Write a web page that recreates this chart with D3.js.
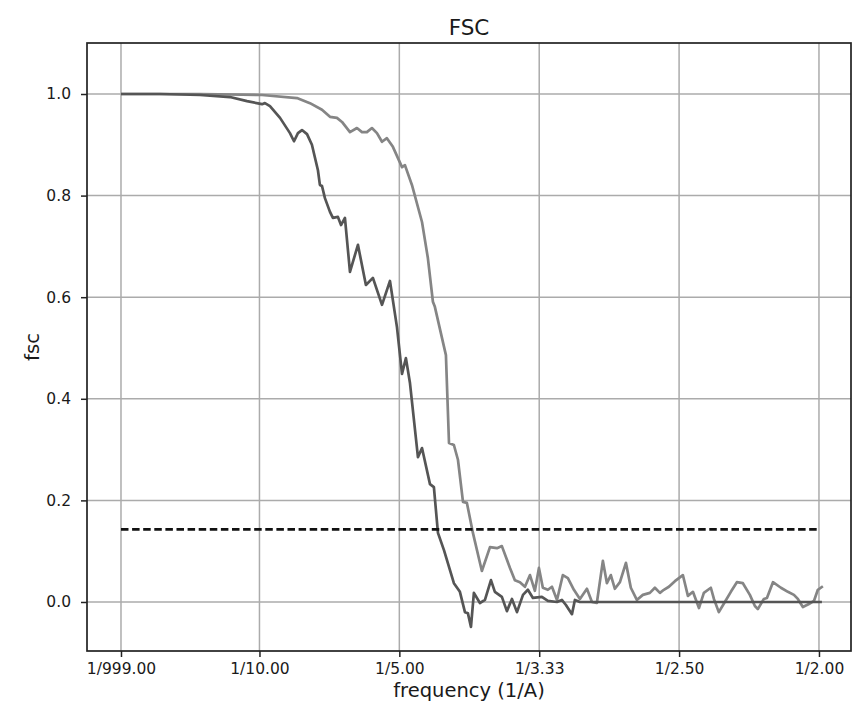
<!DOCTYPE html>
<html>
<head>
<meta charset="utf-8">
<script src="https://cdn.jsdelivr.net/npm/d3@7"></script>
<style>
  body { margin: 0; background: #fff; }
  text { font-family: "DejaVu Sans", sans-serif; fill: #1a1a1a; }
</style>
</head>
<body>
<svg id="chart"></svg>
<script>
// frequency (1/A) and fsc
var freqA = [0.001, 0.0289, 0.0575, 0.0789, 0.0911, 0.1018, 0.1039, 0.1075, 0.1147, 0.1218,
  0.1247, 0.1275, 0.1304, 0.1340, 0.1375, 0.1418, 0.1432, 0.1447, 0.1468, 0.1504,
  0.1525, 0.1561, 0.1583, 0.1611, 0.1647, 0.1704, 0.1761, 0.1811, 0.1876, 0.1933,
  0.1983, 0.2019, 0.2047, 0.2076, 0.2133, 0.2162, 0.2219, 0.2247, 0.2276, 0.2319,
  0.2390, 0.2433, 0.2469, 0.2490, 0.2512, 0.2533, 0.2576, 0.2612, 0.2655, 0.2683,
  0.2733, 0.2769, 0.2805, 0.2841, 0.2884, 0.2919, 0.2955, 0.3019, 0.3062, 0.3127,
  0.3162, 0.3191, 0.3234, 0.3255, 0.3291, 0.40, 0.45, 0.5021];
var fscA = [1.000, 1.000, 0.998, 0.994, 0.986, 0.980, 0.982, 0.976, 0.953, 0.923,
  0.907, 0.923, 0.929, 0.921, 0.900, 0.850, 0.821, 0.819, 0.795, 0.768,
  0.756, 0.758, 0.742, 0.756, 0.650, 0.703, 0.624, 0.638, 0.585, 0.632,
  0.541, 0.449, 0.480, 0.431, 0.285, 0.303, 0.232, 0.226, 0.136, 0.102,
  0.037, 0.020, -0.020, -0.022, -0.049, 0.018, -0.002, 0.004, 0.043, 0.020,
  0.010, -0.018, 0.006, -0.020, 0.014, 0.024, 0.008, 0.010, 0.002, 0.000,
  0.004, -0.006, -0.024, 0.004, 0.000, 0.000, 0.000, 0.000];

var freqB = [0.001, 0.0575, 0.1018, 0.1268, 0.1361, 0.1447, 0.1504, 0.1554, 0.1590, 0.1647,
  0.1697, 0.1733, 0.1768, 0.1804, 0.1840, 0.1876, 0.1911, 0.1954, 0.2019, 0.2040,
  0.2090, 0.2162, 0.2204, 0.2240, 0.2254, 0.2333, 0.2355, 0.2390, 0.2419, 0.2455,
  0.2483, 0.2526, 0.2590, 0.2648, 0.2698, 0.2733, 0.2791, 0.2826, 0.2862, 0.2898,
  0.2934, 0.2969, 0.2998, 0.3026, 0.3062, 0.3091, 0.3127, 0.3169, 0.3205, 0.3248,
  0.3291, 0.3341, 0.3377, 0.3412, 0.3455, 0.3484, 0.3512, 0.3541, 0.3577, 0.3620,
  0.3655, 0.3698, 0.3741, 0.3791, 0.3827, 0.3863, 0.3891, 0.3927, 0.3970, 0.4027,
  0.4063, 0.4099, 0.4142, 0.4177, 0.4227, 0.4249, 0.4284, 0.4327, 0.4370, 0.4413,
  0.4456, 0.4506, 0.4542, 0.4563, 0.4606, 0.4628, 0.4671, 0.4728, 0.4778, 0.4821,
  0.4849, 0.4885, 0.4928, 0.4964, 0.4992, 0.5028];
var fscB = [1.000, 1.000, 0.998, 0.992, 0.982, 0.969, 0.955, 0.953, 0.945, 0.925,
  0.933, 0.925, 0.925, 0.933, 0.923, 0.906, 0.913, 0.896, 0.856, 0.860,
  0.821, 0.748, 0.677, 0.591, 0.581, 0.486, 0.313, 0.309, 0.280, 0.197,
  0.195, 0.136, 0.061, 0.108, 0.106, 0.110, 0.067, 0.043, 0.039, 0.030,
  0.053, 0.022, 0.067, 0.028, 0.024, 0.030, 0.004, 0.053, 0.047, 0.024,
  0.006, 0.026, 0.000, -0.002, 0.081, 0.037, 0.053, 0.026, 0.039, 0.077,
  0.028, 0.004, 0.014, 0.018, 0.028, 0.018, 0.024, 0.030, 0.041, 0.053,
  0.012, 0.020, -0.012, 0.018, 0.028, 0.006, -0.020, 0.000, 0.020, 0.039,
  0.037, 0.014, -0.008, -0.014, 0.006, 0.008, 0.039, 0.028, 0.020, 0.014,
  0.006, -0.010, -0.004, 0.002, 0.024, 0.031];

var threshold = 0.143;
var xTicks = [1 / 999, 0.1, 0.2, 0.3, 0.4, 0.5];
var yTicks = [0.0, 0.2, 0.4, 0.6, 0.8, 1.0];

var width = 853;
var height = 713;
var margin = {top: 43, right: 2, bottom: 62, left: 87};

var svg = d3.select("#chart")
    .attr("width", width)
    .attr("height", height);

var x = d3.scaleLinear()
    .domain([-0.0233, 0.5229])
    .range([margin.left, width - margin.right]);

var y = d3.scaleLinear()
    .domain([-0.0965, 1.1004])
    .range([height - margin.bottom, margin.top]);

var plotW = width - margin.right - margin.left;
var plotH = height - margin.bottom - margin.top;

// grid
svg.append("g")
    .selectAll("line")
    .data(xTicks)
    .enter()
    .append("line")
    .attr("x1", d => x(d)).attr("x2", d => x(d))
    .attr("y1", margin.top).attr("y2", height - margin.bottom)
    .attr("stroke", "#ababab")
    .attr("stroke-width", 1.5);

svg.append("g")
    .selectAll("line")
    .data(yTicks)
    .enter()
    .append("line")
    .attr("x1", margin.left).attr("x2", width - margin.right)
    .attr("y1", d => y(d)).attr("y2", d => y(d))
    .attr("stroke", "#ababab")
    .attr("stroke-width", 1.5);

var line = d3.line()
    .x(d => x(d[0]))
    .y(d => y(d[1]));

var curveB = d3.zip(freqB, fscB);
var curveA = d3.zip(freqA, fscA);

svg.append("path")
    .datum(curveB)
    .attr("d", line)
    .attr("fill", "none")
    .attr("stroke", "#858585")
    .attr("stroke-width", 2.7)
    .attr("stroke-linejoin", "round");

svg.append("path")
    .datum(curveA)
    .attr("d", line)
    .attr("fill", "none")
    .attr("stroke", "#555555")
    .attr("stroke-width", 2.7)
    .attr("stroke-linejoin", "round");

svg.append("line")
    .attr("x1", x(xTicks[0])).attr("x2", x(0.5))
    .attr("y1", y(threshold)).attr("y2", y(threshold))
    .attr("stroke", "#111")
    .attr("stroke-width", 2.8)
    .attr("stroke-dasharray", "7.5,3.6");

// axes
var xAxis = svg.append("g")
    .attr("transform", "translate(0," + (height - margin.bottom) + ")")
    .call(d3.axisBottom(x)
      .tickValues(xTicks)
      .tickSize(6)
      .tickPadding(6)
      .tickFormat(d => "1/" + (1 / d).toFixed(2)));

var yAxis = svg.append("g")
    .attr("transform", "translate(" + margin.left + ",0)")
    .call(d3.axisLeft(y)
      .tickValues(yTicks)
      .tickSize(6)
      .tickPadding(10)
      .tickFormat(d3.format(".1f")));

[xAxis, yAxis].forEach(g => {
  g.select(".domain").remove();
  g.selectAll(".tick line").attr("stroke", "#222").attr("stroke-width", 1.5);
  g.selectAll(".tick text")
    .style("font-family", "DejaVu Sans")
    .style("font-size", "15.5px")
    .attr("fill", "#1a1a1a");
});

// frame
svg.append("rect")
    .attr("x", margin.left)
    .attr("y", margin.top)
    .attr("width", plotW)
    .attr("height", plotH)
    .attr("fill", "none")
    .attr("stroke", "#222")
    .attr("stroke-width", 1.7);

svg.append("text")
    .attr("x", margin.left + plotW / 2)
    .attr("y", 35)
    .attr("text-anchor", "middle")
    .style("font-size", "21.5px")
    .text("FSC");

svg.append("text")
    .attr("x", margin.left + plotW / 2)
    .attr("y", 697)
    .attr("text-anchor", "middle")
    .style("font-size", "19.5px")
    .text("frequency (1/A)");

svg.append("text")
    .attr("transform", "translate(39," + (margin.top + plotH / 2) + ") rotate(-90)")
    .attr("text-anchor", "middle")
    .style("font-size", "19.5px")
    .text("fsc");
</script>
</body>
</html>
